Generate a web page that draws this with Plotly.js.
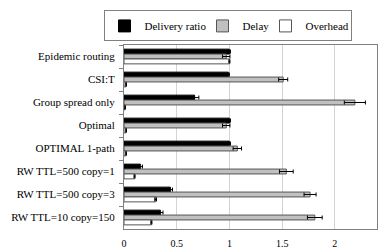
<!DOCTYPE html>
<html><head><meta charset="utf-8">
<script src="https://cdn.plot.ly/plotly-3.0.1.min.js"></script>
<style>html,body{margin:0;padding:0;background:#fff;}#c{width:388px;height:252px;}</style>
</head><body><div id="c"></div>
<script>
var categories = ["Epidemic routing","CSI:T","Group spread only","Optimal","OPTIMAL 1-path","RW TTL=500 copy=1","RW TTL=500 copy=3","RW TTL=10 copy=150"];
var delivery = [1.0, 0.99, 0.67, 1.0, 1.0, 0.155, 0.44, 0.345];
var deliveryErr = [0.01, 0.01, 0.04, 0.01, 0.01, 0.02, 0.02, 0.025];
var delay = [0.97, 1.51, 2.19, 0.97, 1.075, 1.54, 1.765, 1.81];
var delayErr = [0.035, 0.043, 0.1, 0.035, 0.04, 0.065, 0.057, 0.07];
var overhead = [1.0, 0.02, 0.01, 0.02, 0.02, 0.10, 0.30, 0.26];
var overheadErr = [0.005, 0.003, 0.003, 0.003, 0.003, 0.005, 0.008, 0.005];
var seriesNames = ["Delivery ratio", "Delay", "Overhead"];
var xTicks = [0, 0.5, 1, 1.5, 2];
var xTickText = ["0", "0.5", "1", "1.5", "2"];

var font = "Liberation Serif, Times New Roman, serif";
function tr(name, vals, errs, fill, line, lw) {
  return {
    type: "bar", orientation: "h", name: name, y: categories, x: vals,
    legendwidth: lw,
    marker: {color: fill, line: {color: line, width: 1}},
    error_x: {type: "data", array: errs, visible: true, color: "#000", thickness: 1, width: 2}
  };
}
var data = [
  tr(seriesNames[0], delivery, deliveryErr, "#000000", "#000000", 53),
  tr(seriesNames[1], delay, delayErr, "#c0c0c0", "#555555", 18),
  tr(seriesNames[2], overhead, overheadErr, "#ffffff", "#555555", 40)
];
var layout = {
  width: 388, height: 252,
  margin: {l: 124, r: 11, t: 35, b: 23, pad: 0},
  paper_bgcolor: "#fff", plot_bgcolor: "#fff",
  barmode: "group", bargap: 0.36, bargroupgap: 0,
  font: {family: font, size: 10, color: "#000"},
  showlegend: true,
  legend: {orientation: "h", x: -0.081, xanchor: "left", y: 1.188, yanchor: "top",
    bgcolor: "rgba(255,255,255,0)",
    bordercolor: "#808080", borderwidth: 1, font: {family: font, size: 11},
    traceorder: "normal", itemwidth: 30},
  xaxis: {range: [0, 2.4], tickvals: xTicks, ticktext: xTickText,
    showgrid: true, gridcolor: "#d4d4d4", gridwidth: 1, zeroline: false,
    showline: true, linecolor: "#808080", mirror: true, ticks: "",
    ticklabelstandoff: 5,
    tickfont: {family: font, size: 10}, fixedrange: true},
  yaxis: {type: "category", autorange: "reversed", showline: true, linecolor: "#808080",
    mirror: true, ticks: "outside", tickson: "boundaries", ticklen: 4, tickcolor: "#808080",
    showgrid: false, tickfont: {family: font, size: 11}, ticklabelstandoff: 6}
};
Plotly.newPlot("c", data, layout, {displayModeBar: false, staticPlot: true});
</script></body></html>
